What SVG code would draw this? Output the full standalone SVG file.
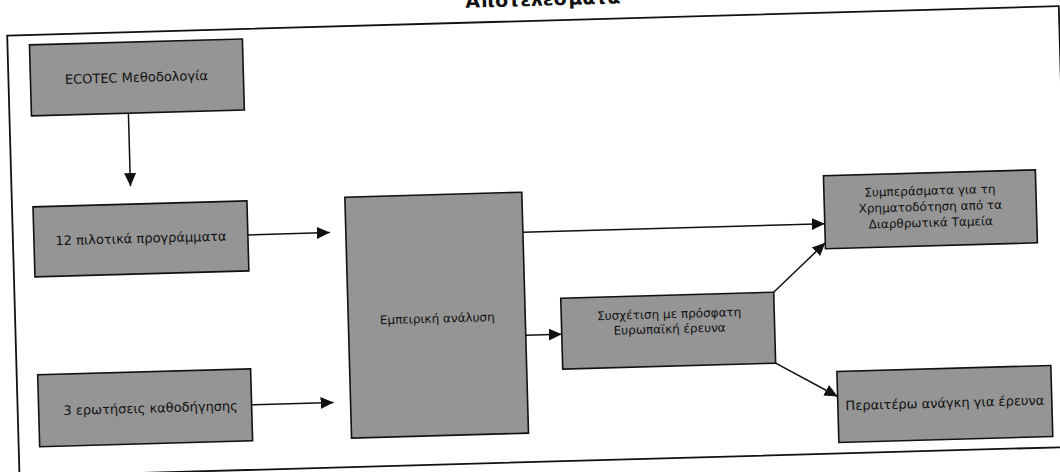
<svg xmlns="http://www.w3.org/2000/svg" width="1060" height="472" viewBox="0 0 1060 472">
  <style>
    .box { fill: #959595; stroke: #111; stroke-width: 1.6; }
    .lbl { font-family: "DejaVu Sans", Verdana, sans-serif; font-size: 12px; fill: #111; text-anchor: middle; }
    .big { font-size: 13px; }
    .title { font-family: "DejaVu Sans", Verdana, sans-serif; font-size: 19px; font-weight: bold; fill: #111; }
    .frame { fill: none; stroke: #111; stroke-width: 1.8; }
    .conn { fill: none; stroke: #111; stroke-width: 1.5; marker-end: url(#arrow); }
  </style>
  <defs>
    <marker id="arrow" markerUnits="userSpaceOnUse" markerWidth="14" markerHeight="14" viewBox="0 0 14 14" refX="13" refY="7" orient="auto">
      <path d="M0,1 L13,7 L0,13 Z" fill="#111"/>
    </marker>
  </defs>
  <rect width="1060" height="472" fill="#fff"/>

  <!-- whole sheet sits slightly skewed on the page -->
  <g transform="rotate(-1.6 530 236)">
    <text class="title" x="472" y="6">Αποτελέσματα</text>
    <rect class="frame" x="13" y="21" width="1052" height="441"/>

    <g id="connectors">
      <line class="conn" x1="132" y1="102" x2="132" y2="175"/>
      <line class="conn" x1="248" y1="227" x2="330" y2="227"/>
      <line class="conn" x1="247" y1="397" x2="329" y2="397"/>
      <line class="conn" x1="523" y1="232" x2="825" y2="232"/>
      <line class="conn" x1="523" y1="335" x2="559" y2="335"/>
      <line class="conn" x1="772" y1="299" x2="825" y2="251"/>
      <line class="conn" x1="772" y1="370" x2="833" y2="405"/>
    </g>

    <g id="ecotec">
      <rect class="box" x="35" y="31" width="213" height="71"/>
      <text class="lbl big" x="141" y="71">ECOTEC Μεθοδολογία</text>
    </g>
    <g id="pilot">
      <rect class="box" x="34" y="193" width="214" height="70"/>
      <text class="lbl big" x="141" y="232">12 πιλοτικά προγράμματα</text>
    </g>
    <g id="questions">
      <rect class="box" x="34" y="361" width="213" height="72"/>
      <text class="lbl big" x="146" y="402">3 ερωτήσεις καθοδήγησης</text>
    </g>
    <g id="empirical">
      <rect class="box" x="346" y="192" width="177" height="241"/>
      <text class="lbl" x="435" y="320">Εμπειρική ανάλυση</text>
    </g>
    <g id="correlation">
      <rect class="box" x="559" y="299" width="213" height="71"/>
      <text class="lbl" x="667" y="322">Συσχέτιση με πρόσφατη</text>
      <text class="lbl" x="667" y="337">Ευρωπαϊκή έρευνα</text>
    </g>
    <g id="conclusions">
      <rect class="box" x="825" y="184" width="212" height="73"/>
      <text class="lbl" x="931" y="206">Συμπεράσματα για τη</text>
      <text class="lbl" x="931" y="222">Χρηματοδότηση από τα</text>
      <text class="lbl" x="931" y="238">Διαρθρωτικά Ταμεία</text>
    </g>
    <g id="further">
      <rect class="box" x="833" y="380" width="214" height="71"/>
      <text class="lbl big" x="940" y="419">Περαιτέρω ανάγκη για έρευνα</text>
    </g>
  </g>
</svg>
